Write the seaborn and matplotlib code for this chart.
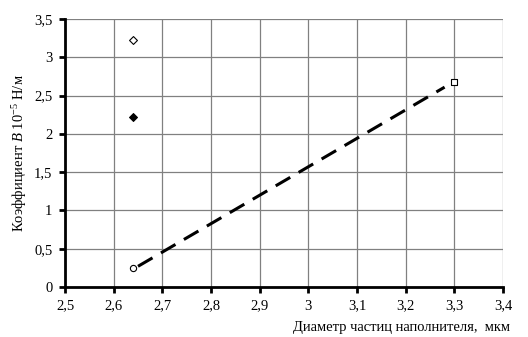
import matplotlib
matplotlib.use("Agg")
import matplotlib.pyplot as plt
import seaborn as sns
import numpy as np
import pandas as pd

sns.set_theme(style="white")
plt.rcParams['font.family'] = ['Liberation Serif', 'DejaVu Serif']
plt.rcParams['mathtext.fontset'] = 'custom'
plt.rcParams['mathtext.rm'] = 'Liberation Serif'
plt.rcParams['mathtext.it'] = 'Liberation Serif:italic'

# data
open_diamond_x = [2.64]; open_diamond_y = [3.22]
filled_diamond_x = [2.64]; filled_diamond_y = [2.22]
circle_x = [2.64]; circle_y = [0.25]
square_x = [3.30]; square_y = [2.68]
trend_x = [2.65, 3.28]
trend_y = [0.27, 2.61]

x_ticks = [2.5, 2.6, 2.7, 2.8, 2.9, 3.0, 3.1, 3.2, 3.3, 3.4]
x_labels = ["2,5", "2,6", "2,7", "2,8", "2,9", "3", "3,1", "3,2", "3,3", "3,4"]
y_ticks = [0, 0.5, 1, 1.5, 2, 2.5, 3, 3.5]
y_labels = ["0", "0,5", "1", "1,5", "2", "2,5", "3", "3,5"]

fig = plt.figure(figsize=(5.28, 3.37), dpi=100)
ax = fig.add_axes([65/528, 1-287/337, (503-65)/528, (287-19)/337])

sns.lineplot(x=trend_x, y=trend_y, ax=ax, color='black', linewidth=2.2,
             linestyle=(0, (5.5, 3.2)), zorder=3)
sns.scatterplot(x=open_diamond_x, y=open_diamond_y, ax=ax, marker='D', s=16,
                facecolor='white', edgecolor='black', linewidth=0.8, zorder=4)
sns.scatterplot(x=filled_diamond_x, y=filled_diamond_y, ax=ax, marker='D', s=16,
                color='black', edgecolor='black', linewidth=0.8, zorder=4)
sns.scatterplot(x=circle_x, y=circle_y, ax=ax, marker='o', s=20,
                facecolor='white', edgecolor='black', linewidth=0.8, zorder=4)
sns.scatterplot(x=square_x, y=square_y, ax=ax, marker='s', s=24,
                facecolor='white', edgecolor='black', linewidth=0.8, zorder=4)

ax.set_xlim(2.5, 3.4)
ax.set_ylim(0, 3.5)
ax.set_xticks(x_ticks)
ax.set_xticklabels(x_labels)
ax.set_yticks(y_ticks)
ax.set_yticklabels(y_labels)
ax.grid(True, color='#808080', linewidth=0.9)
ax.set_axisbelow(True)
for s in ['top', 'right']:
    ax.spines[s].set_visible(False)
for s in ['left', 'bottom']:
    ax.spines[s].set_color('black')
    ax.spines[s].set_linewidth(2)
ax.tick_params(axis='both', which='both', direction='out', length=4, width=2,
               color='black', labelsize=10.5, labelcolor='black', pad=5,
               left=True, bottom=True)

fig.text(510/528, 1-327/337, "Диаметр частиц наполнителя,  мкм", ha='right', va='center',
         fontsize=10.5, color='black')
fig.text(20/528, 1-153/337, r"Коэффициент $\mathit{B}$ 10$^{\mathrm{-5}}$ Н/м", rotation=90,
         ha='center', va='center', fontsize=10.5, color='black')

fig.savefig("out.png", dpi=100)
